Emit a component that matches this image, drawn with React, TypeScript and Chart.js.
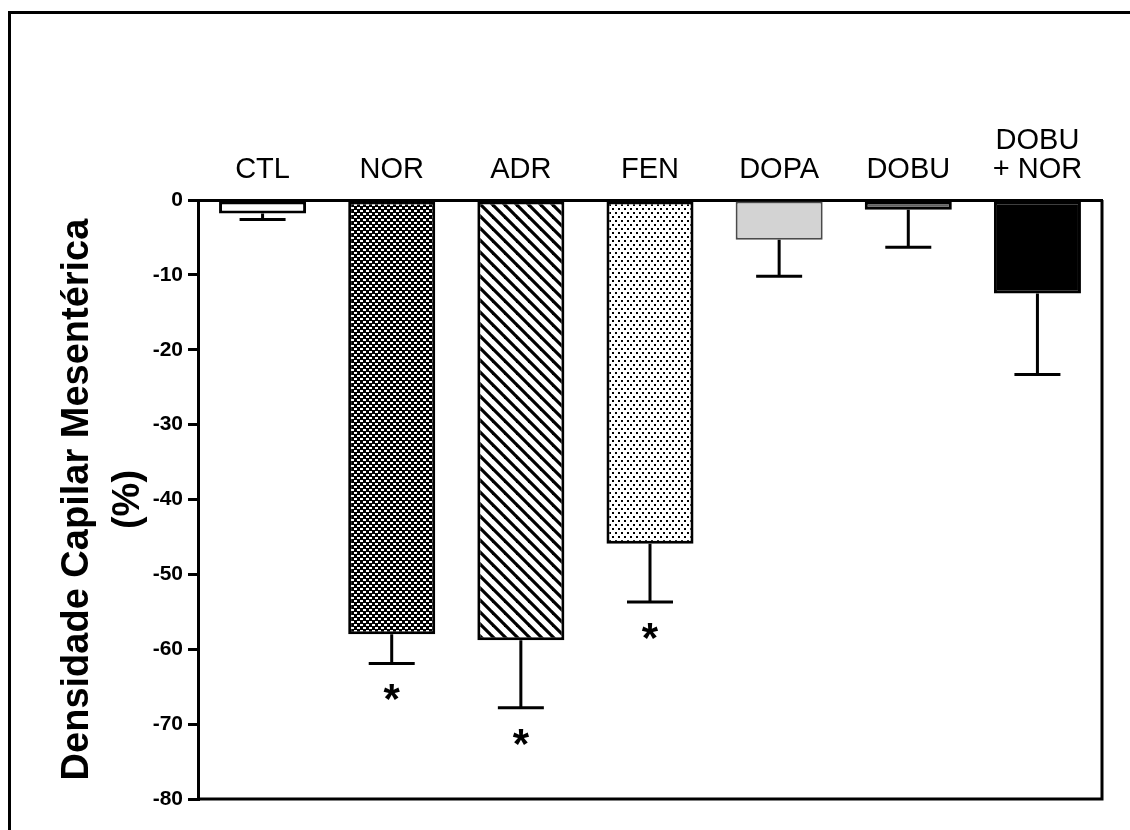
import React, { useEffect, useRef } from 'react';
import { Chart, registerables } from 'chart.js';

Chart.register(...registerables);

const FONT = 'Arial, "Liberation Sans", sans-serif';

const categories: (string | string[])[] = ['CTL', 'NOR', 'ADR', 'FEN', 'DOPA', 'DOBU', ['DOBU', '+ NOR']];
const means = [-1.8, -58.0, -58.8, -45.9, -5.3, -1.3, -12.5];
const errors = [0.8, 3.9, 9.0, 7.8, 4.9, 5.0, 10.8];
const significant = [false, true, true, true, false, false, false];
const yMin = -80;
const yMax = 0;
const yStep = 10;
const yTitle = ['Densidade Capilar Mesentérica', '(%)'];

function makePattern(kind: string): CanvasPattern | string {
  const c = document.createElement('canvas');
  const ctx = c.getContext('2d');
  if (!ctx) return '#888';
  if (kind === 'checker') {
    c.width = 6; c.height = 6;
    ctx.fillStyle = '#000';
    ctx.fillRect(0, 0, 6, 6);
    ctx.fillStyle = '#fff';
    ctx.fillRect(0, 0, 3, 2);
    ctx.fillRect(3, 3, 3, 2);
  } else if (kind === 'diag') {
    const s = 12;
    c.width = s; c.height = s;
    ctx.fillStyle = '#fff';
    ctx.fillRect(0, 0, s, s);
    ctx.strokeStyle = '#000';
    ctx.lineWidth = 3.2;
    for (let k = -1; k <= 1; k++) {
      ctx.beginPath();
      ctx.moveTo(k * s - 2, -2);
      ctx.lineTo(k * s + s + 2, s + 2);
      ctx.stroke();
    }
  } else {
    c.width = 6; c.height = 8;
    ctx.fillStyle = '#fff';
    ctx.fillRect(0, 0, 6, 8);
    ctx.fillStyle = '#000';
    ctx.fillRect(0, 0, 2, 2);
    ctx.fillRect(3, 4, 2, 2);
  }
  return ctx.createPattern(c, 'repeat') || '#888';
}

const overlayPlugin = {
  id: 'overlay',
  afterDatasetsDraw(chart: any) {
    const { ctx, chartArea, scales } = chart;
    const y = scales.y;
    const meta = chart.getDatasetMeta(0);
    ctx.save();
    ctx.strokeStyle = '#000';
    ctx.fillStyle = '#000';
    ctx.lineWidth = 3;
    means.forEach((m, i) => {
      const bar = meta.data[i];
      const cx = bar.x;
      const yBar = y.getPixelForValue(m);
      const yErr = y.getPixelForValue(m - errors[i]);
      ctx.beginPath();
      ctx.moveTo(cx, yBar);
      ctx.lineTo(cx, yErr);
      ctx.moveTo(cx - 23, yErr);
      ctx.lineTo(cx + 23, yErr);
      ctx.stroke();
      if (significant[i]) {
        ctx.font = `bold 42px ${FONT}`;
        ctx.textAlign = 'center';
        ctx.textBaseline = 'alphabetic';
        ctx.fillText('*', cx, yErr + 50);
      }
    });
    ctx.beginPath();
    ctx.moveTo(chartArea.left, chartArea.bottom);
    ctx.lineTo(chartArea.right, chartArea.bottom);
    ctx.lineTo(chartArea.right, chartArea.top);
    ctx.stroke();
    ctx.restore();
  },
  afterDraw(chart: any) {
    const { ctx } = chart;
    ctx.save();
    ctx.strokeStyle = '#000';
    ctx.lineWidth = 3;
    ctx.beginPath();
    ctx.moveTo(9.5, 830);
    ctx.lineTo(9.5, 12.5);
    ctx.lineTo(1130, 12.5);
    ctx.stroke();
    ctx.restore();
  },
};

export default function App() {
  const ref = useRef<HTMLCanvasElement | null>(null);
  useEffect(() => {
    if (!ref.current) return;
    const fills = ['#ffffff', makePattern('checker'), makePattern('diag'), makePattern('dots'), '#d3d3d3', '#606060', '#000000'];
    const chart = new Chart(ref.current, {
      type: 'bar',
      data: {
        labels: categories as any,
        datasets: [
          {
            data: means,
            backgroundColor: fills as any,
            borderColor: ['#000', '#000', '#000', '#000', '#4a4a4a', '#000', '#000'],
            borderWidth: [3, 3, 3, 3, 2, 3, 3],
            borderSkipped: false,
            barPercentage: 0.674,
            categoryPercentage: 1,
          },
        ],
      },
      options: {
        responsive: false,
        animation: false,
        devicePixelRatio: 1,
        layout: { padding: { left: 0, top: 0, right: 28, bottom: 31 } },
        plugins: { legend: { display: false }, tooltip: { enabled: false } },
        scales: {
          x: {
            type: 'category',
            position: 'top',
            grid: { display: false },
            border: { display: true, color: '#000', width: 3 },
            ticks: {
              color: '#000',
              font: { family: FONT, size: 29, lineHeight: 1.0 },
              padding: 8,
              maxRotation: 0,
              autoSkip: false,
            },
            afterFit: (s: any) => { s.height = 200; },
          },
          y: {
            min: yMin,
            max: yMax,
            ticks: {
              stepSize: yStep,
              color: '#000',
              font: { family: FONT, size: 21, weight: 'bold' },
              padding: 5,
            },
            grid: { drawOnChartArea: false, drawTicks: true, tickLength: 10, lineWidth: 3, color: '#000' },
            border: { display: true, color: '#000', width: 3 },
            title: {
              display: true,
              text: yTitle,
              color: '#000',
              font: { family: FONT, size: 38, weight: 'bold', lineHeight: 1.35 },
              padding: { top: 52, bottom: 0 },
            },
            afterFit: (s: any) => { s.width = 198; },
          },
        },
      } as any,
      plugins: [overlayPlugin],
    });
    return () => chart.destroy();
  }, []);
  return (
    <div style={{ position: 'absolute', left: 0, top: 0, width: 1130, height: 830, background: '#fff' }}>
      <canvas ref={ref} width={1130} height={830} style={{ display: 'block' }} />
    </div>
  );
}
